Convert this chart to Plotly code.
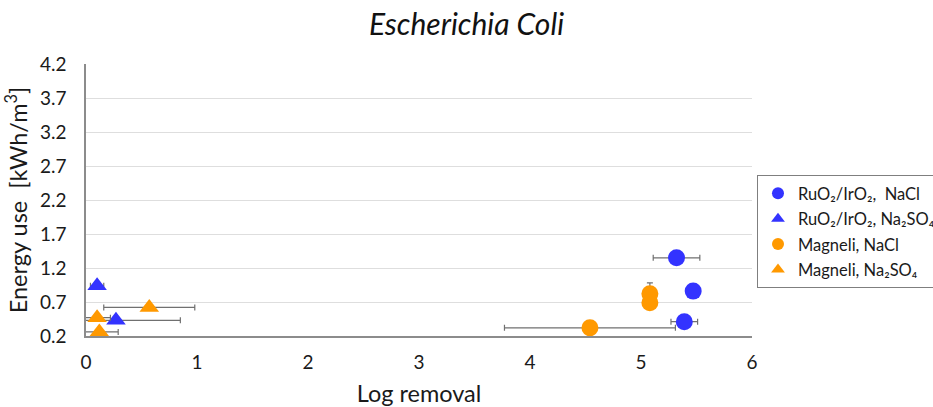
import plotly.graph_objects as go

# Log removal (x) and energy use (y) for each electrode / electrolyte combination
ru_nacl_x = [5.32, 5.47, 5.39]
ru_nacl_y = [1.35, 0.86, 0.41]
ru_nacl_xerr = [0.21, 0.0, 0.12]

ru_na2so4_x = [0.10, 0.27]
ru_na2so4_y = [0.94, 0.43]
ru_na2so4_xerr = [0.06, 0.58]

mag_nacl_x = [5.08, 5.08, 4.54]
mag_nacl_y = [0.82, 0.69, 0.32]
mag_nacl_xerr = [0.0, 0.0, 0.77]
mag_nacl_yerr = [0.16, 0.0, 0.0]

mag_na2so4_x = [0.57, 0.10, 0.12]
mag_na2so4_y = [0.62, 0.47, 0.26]
mag_na2so4_xerr = [0.41, 0.12, 0.17]

y_ticks = [0.2, 0.7, 1.2, 1.7, 2.2, 2.7, 3.2, 3.7, 4.2]
x_ticks = [0, 1, 2, 3, 4, 5, 6]

BLUE = "#3333ff"
ORANGE = "#ff9900"
ERR = "#707070"
FONT = "Lato"


def err(vals):
    return dict(type="data", array=vals, visible=True, color=ERR, thickness=1.2, width=3)


fig = go.Figure()
fig.add_trace(go.Scatter(
    x=ru_nacl_x, y=ru_nacl_y, mode="markers", name="RuO₂/IrO₂,  NaCl", legendgroup="a",
    marker=dict(symbol="circle", size=17, color=BLUE),
    error_x=err(ru_nacl_xerr)))
fig.add_trace(go.Scatter(
    x=ru_na2so4_x, y=ru_na2so4_y, mode="markers", name="RuO₂/IrO₂, Na₂SO₄", legendgroup="b",
    marker=dict(symbol="triangle-up", size=17, color=BLUE),
    error_x=err(ru_na2so4_xerr)))
fig.add_trace(go.Scatter(
    x=mag_nacl_x, y=mag_nacl_y, mode="markers", name="Magneli, NaCl", legendgroup="c",
    marker=dict(symbol="circle", size=17, color=ORANGE),
    error_x=err(mag_nacl_xerr), error_y=err(mag_nacl_yerr)))
fig.add_trace(go.Scatter(
    x=mag_na2so4_x, y=mag_na2so4_y, mode="markers", name="Magneli, Na₂SO₄", legendgroup="d",
    marker=dict(symbol="triangle-up", size=17, color=ORANGE),
    error_x=err(mag_na2so4_xerr)))

fig.update_layout(
    width=933, height=407,
    margin=dict(l=86, r=181, t=64, b=71, autoexpand=False),
    paper_bgcolor="white", plot_bgcolor="white",
    font=dict(family=FONT, color="#1a1a1a"),
    title=dict(text="<i>Escherichia Coli</i>", x=0.5, xanchor="center",
               y=0.94, yanchor="middle", font=dict(size=30, color="#111111")),
    xaxis=dict(range=[0, 6], tickvals=x_ticks, showgrid=False, zeroline=False,
               showline=True, linecolor="#8c8c8c", linewidth=1.5,
               ticks="", tickfont=dict(size=19), ticklabelstandoff=8,
               title=dict(text="Log removal", font=dict(size=23.5), standoff=16)),
    yaxis=dict(range=[0.2, 4.2], tickvals=y_ticks, ticktext=[f"{v:.1f}" for v in y_ticks],
               showgrid=True, gridcolor="#dedede", gridwidth=1, zeroline=False,
               showline=True, linecolor="#8c8c8c", linewidth=1.5,
               ticks="", tickfont=dict(size=19), ticklabelstandoff=14,
               title=dict(text="Energy use  [kWh/m<sup>3</sup>]", font=dict(size=23.5), standoff=6)),
    legend=dict(x=1.0075, y=0.592, xanchor="left", yanchor="top",
                bordercolor="#7f7f7f", borderwidth=1, bgcolor="white",
                font=dict(size=16.5), itemwidth=30, itemsizing="constant",
                tracegroupgap=1),
    showlegend=True,
)

fig.write_html("out.html")
